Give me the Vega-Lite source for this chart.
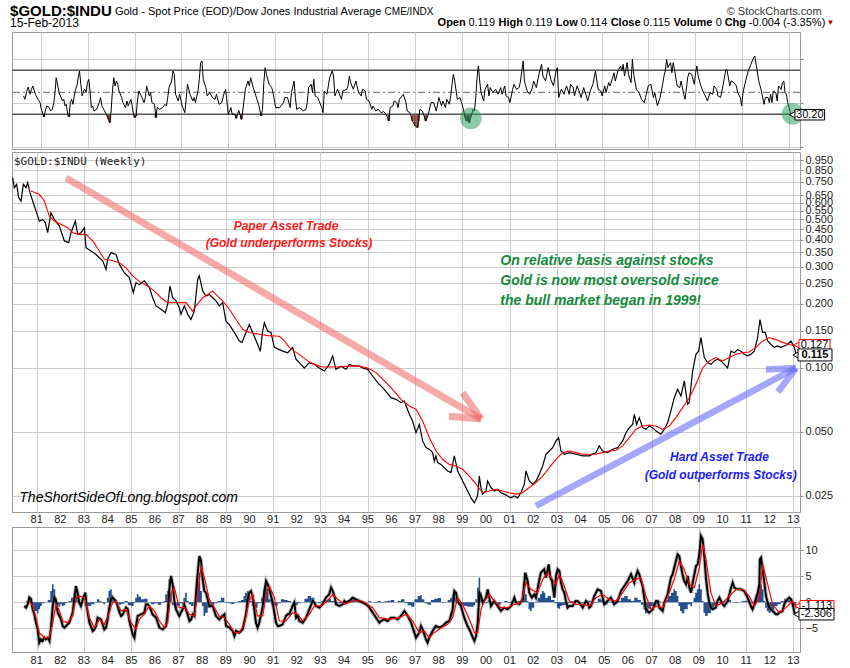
{
"$schema":"https://vega.github.io/schema/vega-lite/v6.json",
"background":"white",
"padding":{"left":9,"top":3,"right":0,"bottom":0},
"bounds":"flush",
"spacing":3,
"config":{"font":"Liberation Sans","view":{"stroke":"#9a9a9a"},"axis":{"labelFont":"Liberation Sans","labelFontSize":11,"labelColor":"#222","gridColor":"#cccccc","tickColor":"#888","domain":false,"labelFlush":false,"labelOverlap":false,"labelBound":false},"text":{"font":"Liberation Sans"}},
"datasets":{
"yrs":[{"yr":1981,"lab":"81"},{"yr":1982,"lab":"82"},{"yr":1983,"lab":"83"},{"yr":1984,"lab":"84"},{"yr":1985,"lab":"85"},{"yr":1986,"lab":"86"},{"yr":1987,"lab":"87"},{"yr":1988,"lab":"88"},{"yr":1989,"lab":"89"},{"yr":1990,"lab":"90"},{"yr":1991,"lab":"91"},{"yr":1992,"lab":"92"},{"yr":1993,"lab":"93"},{"yr":1994,"lab":"94"},{"yr":1995,"lab":"95"},{"yr":1996,"lab":"96"},{"yr":1997,"lab":"97"},{"yr":1998,"lab":"98"},{"yr":1999,"lab":"99"},{"yr":2000,"lab":"00"},{"yr":2001,"lab":"01"},{"yr":2002,"lab":"02"},{"yr":2003,"lab":"03"},{"yr":2004,"lab":"04"},{"yr":2005,"lab":"05"},{"yr":2006,"lab":"06"},{"yr":2007,"lab":"07"},{"yr":2008,"lab":"08"},{"yr":2009,"lab":"09"},{"yr":2010,"lab":"10"},{"yr":2011,"lab":"11"},{"yr":2012,"lab":"12"},{"yr":2013,"lab":"13"}],
"px":[{"t":1979.984,"p":0.786},{"t":1980.055,"p":0.705},{"t":1980.153,"p":0.731},{"t":1980.238,"p":0.633},{"t":1980.337,"p":0.61},{"t":1980.435,"p":0.731},{"t":1980.548,"p":0.705},{"t":1980.618,"p":0.744},{"t":1980.717,"p":0.668},{"t":1980.83,"p":0.61},{"t":1980.971,"p":0.548},{"t":1981.112,"p":0.491},{"t":1981.253,"p":0.5},{"t":1981.366,"p":0.483},{"t":1981.464,"p":0.433},{"t":1981.605,"p":0.538},{"t":1981.746,"p":0.5},{"t":1981.958,"p":0.465},{"t":1982.169,"p":0.396},{"t":1982.352,"p":0.389},{"t":1982.451,"p":0.433},{"t":1982.634,"p":0.491},{"t":1982.733,"p":0.425},{"t":1982.874,"p":0.433},{"t":1983.015,"p":0.457},{"t":1983.085,"p":0.368},{"t":1983.296,"p":0.355},{"t":1983.508,"p":0.342},{"t":1983.649,"p":0.33},{"t":1983.79,"p":0.319},{"t":1983.931,"p":0.291},{"t":1984.001,"p":0.325},{"t":1984.142,"p":0.349},{"t":1984.354,"p":0.342},{"t":1984.494,"p":0.307},{"t":1984.706,"p":0.281},{"t":1984.917,"p":0.266},{"t":1985.087,"p":0.226},{"t":1985.199,"p":0.252},{"t":1985.34,"p":0.247},{"t":1985.552,"p":0.257},{"t":1985.763,"p":0.239},{"t":1985.904,"p":0.214},{"t":1986.045,"p":0.196},{"t":1986.256,"p":0.189},{"t":1986.44,"p":0.182},{"t":1986.538,"p":0.199},{"t":1986.637,"p":0.243},{"t":1986.75,"p":0.214},{"t":1986.891,"p":0.207},{"t":1987.031,"p":0.192},{"t":1987.102,"p":0.179},{"t":1987.243,"p":0.196},{"t":1987.384,"p":0.179},{"t":1987.525,"p":0.169},{"t":1987.666,"p":0.185},{"t":1987.807,"p":0.261},{"t":1987.877,"p":0.271},{"t":1988.018,"p":0.23},{"t":1988.159,"p":0.218},{"t":1988.3,"p":0.222},{"t":1988.441,"p":0.214},{"t":1988.582,"p":0.207},{"t":1988.723,"p":0.196},{"t":1988.864,"p":0.203},{"t":1989.005,"p":0.166},{"t":1989.146,"p":0.16},{"t":1989.357,"p":0.147},{"t":1989.568,"p":0.134},{"t":1989.681,"p":0.132},{"t":1989.85,"p":0.147},{"t":1989.991,"p":0.16},{"t":1990.132,"p":0.147},{"t":1990.344,"p":0.129},{"t":1990.456,"p":0.12},{"t":1990.555,"p":0.149},{"t":1990.626,"p":0.163},{"t":1990.767,"p":0.149},{"t":1990.907,"p":0.147},{"t":1991.048,"p":0.125},{"t":1991.259,"p":0.122},{"t":1991.4,"p":0.12},{"t":1991.612,"p":0.118},{"t":1991.823,"p":0.125},{"t":1991.964,"p":0.11},{"t":1992.176,"p":0.104},{"t":1992.317,"p":0.1},{"t":1992.528,"p":0.106},{"t":1992.74,"p":0.104},{"t":1992.951,"p":0.1},{"t":1993.162,"p":0.0968},{"t":1993.374,"p":0.104},{"t":1993.514,"p":0.114},{"t":1993.655,"p":0.0986},{"t":1993.867,"p":0.102},{"t":1994.079,"p":0.0986},{"t":1994.219,"p":0.104},{"t":1994.431,"p":0.102},{"t":1994.642,"p":0.102},{"t":1994.783,"p":0.1},{"t":1994.995,"p":0.0986},{"t":1995.206,"p":0.0917},{"t":1995.417,"p":0.0853},{"t":1995.699,"p":0.0794},{"t":1995.981,"p":0.0725},{"t":1996.193,"p":0.0712},{"t":1996.404,"p":0.0687},{"t":1996.545,"p":0.0699},{"t":1996.756,"p":0.0606},{"t":1996.897,"p":0.0563},{"t":1997.038,"p":0.0496},{"t":1997.179,"p":0.0543},{"t":1997.32,"p":0.0454},{"t":1997.461,"p":0.0422},{"t":1997.602,"p":0.0415},{"t":1997.743,"p":0.04},{"t":1997.813,"p":0.0365},{"t":1997.884,"p":0.0386},{"t":1997.954,"p":0.0359},{"t":1998.095,"p":0.0352},{"t":1998.236,"p":0.034},{"t":1998.377,"p":0.0328},{"t":1998.518,"p":0.0322},{"t":1998.588,"p":0.0352},{"t":1998.659,"p":0.0386},{"t":1998.8,"p":0.0328},{"t":1998.941,"p":0.0305},{"t":1999.082,"p":0.0284},{"t":1999.223,"p":0.0264},{"t":1999.364,"p":0.0245},{"t":1999.505,"p":0.0232},{"t":1999.645,"p":0.025},{"t":1999.716,"p":0.031},{"t":1999.786,"p":0.0274},{"t":1999.857,"p":0.0255},{"t":1999.998,"p":0.0264},{"t":2000.068,"p":0.0294},{"t":2000.209,"p":0.0274},{"t":2000.35,"p":0.0264},{"t":2000.491,"p":0.0269},{"t":2000.632,"p":0.0259},{"t":2000.773,"p":0.0255},{"t":2000.914,"p":0.025},{"t":2001.055,"p":0.0245},{"t":2001.196,"p":0.025},{"t":2001.337,"p":0.0245},{"t":2001.478,"p":0.0259},{"t":2001.619,"p":0.0284},{"t":2001.689,"p":0.0328},{"t":2001.83,"p":0.0294},{"t":2001.971,"p":0.0284},{"t":2002.112,"p":0.0294},{"t":2002.253,"p":0.0316},{"t":2002.394,"p":0.0346},{"t":2002.535,"p":0.0393},{"t":2002.676,"p":0.0407},{"t":2002.817,"p":0.0422},{"t":2002.958,"p":0.0454},{"t":2003.07,"p":0.047},{"t":2003.169,"p":0.0407},{"t":2003.31,"p":0.0393},{"t":2003.521,"p":0.04},{"t":2003.803,"p":0.0393},{"t":2004.085,"p":0.0386},{"t":2004.367,"p":0.0386},{"t":2004.649,"p":0.04},{"t":2004.79,"p":0.043},{"t":2004.931,"p":0.0407},{"t":2005.142,"p":0.04},{"t":2005.354,"p":0.0415},{"t":2005.565,"p":0.0422},{"t":2005.777,"p":0.0454},{"t":2005.917,"p":0.0496},{"t":2006.058,"p":0.0524},{"t":2006.199,"p":0.0543},{"t":2006.27,"p":0.0606},{"t":2006.369,"p":0.0543},{"t":2006.481,"p":0.0584},{"t":2006.622,"p":0.0524},{"t":2006.763,"p":0.0515},{"t":2006.904,"p":0.0534},{"t":2007.045,"p":0.0524},{"t":2007.186,"p":0.0505},{"t":2007.398,"p":0.0488},{"t":2007.538,"p":0.0515},{"t":2007.679,"p":0.0553},{"t":2007.82,"p":0.0628},{"t":2007.961,"p":0.0725},{"t":2008.102,"p":0.0794},{"t":2008.243,"p":0.0738},{"t":2008.384,"p":0.0869},{"t":2008.525,"p":0.0675},{"t":2008.596,"p":0.069},{"t":2008.737,"p":0.0968},{"t":2008.877,"p":0.116},{"t":2008.99,"p":0.12},{"t":2009.089,"p":0.139},{"t":2009.23,"p":0.112},{"t":2009.371,"p":0.106},{"t":2009.512,"p":0.104},{"t":2009.653,"p":0.108},{"t":2009.794,"p":0.11},{"t":2009.935,"p":0.108},{"t":2010.075,"p":0.104},{"t":2010.216,"p":0.1},{"t":2010.357,"p":0.12},{"t":2010.498,"p":0.118},{"t":2010.639,"p":0.122},{"t":2010.78,"p":0.12},{"t":2010.921,"p":0.116},{"t":2011.062,"p":0.114},{"t":2011.203,"p":0.116},{"t":2011.344,"p":0.12},{"t":2011.485,"p":0.139},{"t":2011.584,"p":0.169},{"t":2011.696,"p":0.147},{"t":2011.809,"p":0.147},{"t":2011.908,"p":0.134},{"t":2012.049,"p":0.129},{"t":2012.19,"p":0.125},{"t":2012.33,"p":0.127},{"t":2012.471,"p":0.125},{"t":2012.612,"p":0.127},{"t":2012.753,"p":0.129},{"t":2012.894,"p":0.134},{"t":2013.035,"p":0.125},{"t":2013.124,"p":0.115}],
"ma":[{"t":1980.759,"p":0.68},{"t":1981.112,"p":0.656},{"t":1981.323,"p":0.61},{"t":1981.535,"p":0.519},{"t":1981.746,"p":0.491},{"t":1982.028,"p":0.474},{"t":1982.31,"p":0.457},{"t":1982.521,"p":0.433},{"t":1982.803,"p":0.425},{"t":1983.085,"p":0.425},{"t":1983.367,"p":0.396},{"t":1983.649,"p":0.355},{"t":1983.86,"p":0.325},{"t":1984.142,"p":0.321},{"t":1984.494,"p":0.313},{"t":1984.776,"p":0.296},{"t":1985.058,"p":0.271},{"t":1985.41,"p":0.252},{"t":1985.693,"p":0.243},{"t":1985.974,"p":0.23},{"t":1986.256,"p":0.214},{"t":1986.538,"p":0.203},{"t":1986.961,"p":0.203},{"t":1987.313,"p":0.203},{"t":1987.595,"p":0.185},{"t":1987.736,"p":0.196},{"t":1988.018,"p":0.214},{"t":1988.441,"p":0.23},{"t":1988.652,"p":0.218},{"t":1988.864,"p":0.207},{"t":1989.146,"p":0.189},{"t":1989.428,"p":0.169},{"t":1989.709,"p":0.152},{"t":1989.991,"p":0.147},{"t":1990.414,"p":0.144},{"t":1990.767,"p":0.142},{"t":1991.259,"p":0.141},{"t":1991.471,"p":0.134},{"t":1991.682,"p":0.125},{"t":1991.894,"p":0.12},{"t":1992.176,"p":0.114},{"t":1992.458,"p":0.108},{"t":1992.74,"p":0.104},{"t":1993.092,"p":0.1011},{"t":1993.374,"p":0.1011},{"t":1993.797,"p":0.1011},{"t":1994.219,"p":0.102},{"t":1994.642,"p":0.102},{"t":1994.995,"p":0.1},{"t":1995.347,"p":0.0951},{"t":1995.699,"p":0.0869},{"t":1996.052,"p":0.0794},{"t":1996.404,"p":0.0712},{"t":1996.756,"p":0.0663},{"t":1997.038,"p":0.064},{"t":1997.32,"p":0.0563},{"t":1997.602,"p":0.047},{"t":1997.884,"p":0.0407},{"t":1998.166,"p":0.0372},{"t":1998.447,"p":0.0352},{"t":1998.729,"p":0.0346},{"t":1999.011,"p":0.0334},{"t":1999.293,"p":0.031},{"t":1999.575,"p":0.0284},{"t":1999.857,"p":0.0259},{"t":2000.139,"p":0.0264},{"t":2000.421,"p":0.0269},{"t":2000.702,"p":0.0264},{"t":2000.984,"p":0.0259},{"t":2001.266,"p":0.0255},{"t":2001.548,"p":0.0259},{"t":2001.83,"p":0.0274},{"t":2002.112,"p":0.0289},{"t":2002.394,"p":0.031},{"t":2002.676,"p":0.034},{"t":2002.958,"p":0.0372},{"t":2003.24,"p":0.04},{"t":2003.521,"p":0.0407},{"t":2003.803,"p":0.04},{"t":2004.085,"p":0.0393},{"t":2004.367,"p":0.0393},{"t":2004.649,"p":0.0393},{"t":2004.931,"p":0.04},{"t":2005.213,"p":0.0407},{"t":2005.495,"p":0.041},{"t":2005.777,"p":0.043},{"t":2006.058,"p":0.047},{"t":2006.34,"p":0.0515},{"t":2006.622,"p":0.0534},{"t":2006.904,"p":0.0539},{"t":2007.186,"p":0.0534},{"t":2007.468,"p":0.0515},{"t":2007.75,"p":0.0534},{"t":2008.032,"p":0.0584},{"t":2008.313,"p":0.0651},{"t":2008.596,"p":0.0725},{"t":2008.877,"p":0.0838},{"t":2009.159,"p":0.1},{"t":2009.441,"p":0.108},{"t":2009.723,"p":0.112},{"t":2010.005,"p":0.108},{"t":2010.287,"p":0.112},{"t":2010.569,"p":0.116},{"t":2010.85,"p":0.118},{"t":2011.132,"p":0.119},{"t":2011.414,"p":0.125},{"t":2011.696,"p":0.134},{"t":2011.978,"p":0.139},{"t":2012.259,"p":0.136},{"t":2012.541,"p":0.132},{"t":2012.823,"p":0.129},{"t":2013.124,"p":0.127}],
"rsi":[{"t":1980.238,"r":46.7},{"t":1980.294,"r":43.6},{"t":1980.379,"r":51.2},{"t":1980.435,"r":54.8},{"t":1980.52,"r":48.2},{"t":1980.576,"r":52.7},{"t":1980.633,"r":55.8},{"t":1980.745,"r":48.2},{"t":1980.858,"r":43.6},{"t":1980.943,"r":40.6},{"t":1980.999,"r":34.5},{"t":1981.112,"r":27.6},{"t":1981.168,"r":33},{"t":1981.225,"r":37.6},{"t":1981.337,"r":36.1},{"t":1981.394,"r":33},{"t":1981.464,"r":34.5},{"t":1981.535,"r":40.6},{"t":1981.591,"r":51.2},{"t":1981.633,"r":63.3},{"t":1981.704,"r":55.8},{"t":1981.76,"r":49.7},{"t":1981.845,"r":45.2},{"t":1981.901,"r":42.1},{"t":1981.958,"r":43.6},{"t":1982.014,"r":37.6},{"t":1982.07,"r":39.1},{"t":1982.127,"r":30},{"t":1982.183,"r":27.6},{"t":1982.239,"r":40.6},{"t":1982.296,"r":43.6},{"t":1982.352,"r":39.1},{"t":1982.408,"r":46.7},{"t":1982.465,"r":52.7},{"t":1982.521,"r":55.8},{"t":1982.578,"r":63.3},{"t":1982.634,"r":69.4},{"t":1982.69,"r":57.3},{"t":1982.747,"r":46.7},{"t":1982.803,"r":51.2},{"t":1982.859,"r":52.7},{"t":1982.916,"r":49.7},{"t":1982.972,"r":58.8},{"t":1983.029,"r":61.8},{"t":1983.085,"r":51.2},{"t":1983.141,"r":36.1},{"t":1983.198,"r":37.6},{"t":1983.254,"r":33},{"t":1983.367,"r":34.5},{"t":1983.479,"r":40.6},{"t":1983.536,"r":45.2},{"t":1983.592,"r":37.6},{"t":1983.705,"r":33},{"t":1983.818,"r":28.5},{"t":1983.874,"r":25.4},{"t":1983.931,"r":22.4},{"t":1983.987,"r":33},{"t":1984.043,"r":51.2},{"t":1984.1,"r":63.3},{"t":1984.156,"r":55.8},{"t":1984.213,"r":60.3},{"t":1984.269,"r":57.3},{"t":1984.325,"r":51.2},{"t":1984.438,"r":45.2},{"t":1984.494,"r":40.6},{"t":1984.607,"r":36.1},{"t":1984.663,"r":42.1},{"t":1984.72,"r":37.6},{"t":1984.833,"r":43.6},{"t":1984.889,"r":37.6},{"t":1984.945,"r":30},{"t":1985.002,"r":26.9},{"t":1985.058,"r":28.5},{"t":1985.114,"r":42.1},{"t":1985.171,"r":51.2},{"t":1985.284,"r":46.7},{"t":1985.396,"r":40.6},{"t":1985.453,"r":45.2},{"t":1985.509,"r":55.8},{"t":1985.565,"r":51.2},{"t":1985.622,"r":46.7},{"t":1985.678,"r":49.7},{"t":1985.735,"r":40.6},{"t":1985.847,"r":39.1},{"t":1985.904,"r":26.9},{"t":1985.96,"r":36.1},{"t":1986.073,"r":34.5},{"t":1986.186,"r":36.1},{"t":1986.298,"r":39.1},{"t":1986.355,"r":37.6},{"t":1986.411,"r":45.2},{"t":1986.467,"r":54.3},{"t":1986.58,"r":60.3},{"t":1986.637,"r":69.4},{"t":1986.693,"r":66.3},{"t":1986.749,"r":48.2},{"t":1986.862,"r":42.1},{"t":1986.918,"r":48.2},{"t":1987.031,"r":37.6},{"t":1987.144,"r":31.5},{"t":1987.2,"r":43.6},{"t":1987.257,"r":57.3},{"t":1987.369,"r":48.2},{"t":1987.482,"r":42.1},{"t":1987.539,"r":45.2},{"t":1987.595,"r":40.6},{"t":1987.708,"r":51.2},{"t":1987.764,"r":61.8},{"t":1987.82,"r":76.9},{"t":1987.877,"r":78.5},{"t":1987.933,"r":61.8},{"t":1988.046,"r":54.3},{"t":1988.102,"r":46.7},{"t":1988.215,"r":49.7},{"t":1988.328,"r":45.2},{"t":1988.441,"r":43.6},{"t":1988.497,"r":48.2},{"t":1988.61,"r":39.1},{"t":1988.723,"r":40.6},{"t":1988.835,"r":49.7},{"t":1988.892,"r":52.7},{"t":1989.004,"r":30},{"t":1989.117,"r":36.1},{"t":1989.173,"r":30},{"t":1989.286,"r":30},{"t":1989.343,"r":26.3},{"t":1989.455,"r":33.6},{"t":1989.568,"r":25.4},{"t":1989.624,"r":33},{"t":1989.737,"r":52.7},{"t":1989.85,"r":60.3},{"t":1989.906,"r":55.8},{"t":1989.963,"r":63.3},{"t":1990.075,"r":54.3},{"t":1990.188,"r":46.7},{"t":1990.301,"r":39.1},{"t":1990.414,"r":28.5},{"t":1990.47,"r":34.5},{"t":1990.527,"r":58.8},{"t":1990.583,"r":72.4},{"t":1990.639,"r":66.3},{"t":1990.752,"r":57.3},{"t":1990.865,"r":54.3},{"t":1990.921,"r":49.7},{"t":1991.034,"r":36.1},{"t":1991.203,"r":36.1},{"t":1991.372,"r":40.6},{"t":1991.428,"r":45.2},{"t":1991.541,"r":45.2},{"t":1991.654,"r":36.1},{"t":1991.71,"r":49.7},{"t":1991.823,"r":60.3},{"t":1991.879,"r":45.2},{"t":1991.936,"r":34.5},{"t":1992.048,"r":36.1},{"t":1992.161,"r":34.5},{"t":1992.217,"r":33},{"t":1992.33,"r":34.5},{"t":1992.386,"r":40.6},{"t":1992.443,"r":54.3},{"t":1992.555,"r":57.3},{"t":1992.612,"r":49.7},{"t":1992.668,"r":61.8},{"t":1992.725,"r":46.7},{"t":1992.838,"r":45.2},{"t":1993.007,"r":36.1},{"t":1993.063,"r":31.5},{"t":1993.12,"r":51.2},{"t":1993.232,"r":48.2},{"t":1993.345,"r":63.3},{"t":1993.458,"r":69.4},{"t":1993.514,"r":64.8},{"t":1993.571,"r":46.7},{"t":1993.684,"r":52.7},{"t":1993.853,"r":43.6},{"t":1993.909,"r":51.2},{"t":1994.078,"r":52.7},{"t":1994.135,"r":55.8},{"t":1994.191,"r":64.8},{"t":1994.247,"r":58.8},{"t":1994.36,"r":52.7},{"t":1994.473,"r":60.3},{"t":1994.585,"r":49.7},{"t":1994.698,"r":46.7},{"t":1994.755,"r":52.7},{"t":1994.867,"r":51.2},{"t":1994.924,"r":43.6},{"t":1995.036,"r":42.1},{"t":1995.149,"r":34.5},{"t":1995.205,"r":37.6},{"t":1995.318,"r":33},{"t":1995.431,"r":34.5},{"t":1995.544,"r":31.5},{"t":1995.657,"r":32.4},{"t":1995.77,"r":30},{"t":1995.882,"r":23.9},{"t":1995.939,"r":36.1},{"t":1996.051,"r":37.6},{"t":1996.108,"r":42.1},{"t":1996.221,"r":40.6},{"t":1996.277,"r":36.1},{"t":1996.333,"r":43.6},{"t":1996.446,"r":46.7},{"t":1996.502,"r":48.2},{"t":1996.615,"r":40.6},{"t":1996.671,"r":33},{"t":1996.784,"r":31.5},{"t":1996.897,"r":23.9},{"t":1997.01,"r":19.4},{"t":1997.109,"r":17.9},{"t":1997.152,"r":23.9},{"t":1997.208,"r":34.5},{"t":1997.321,"r":33},{"t":1997.462,"r":23.9},{"t":1997.574,"r":30},{"t":1997.687,"r":40.6},{"t":1997.8,"r":40.6},{"t":1997.913,"r":33},{"t":1998.025,"r":45.2},{"t":1998.138,"r":37.6},{"t":1998.195,"r":42.1},{"t":1998.307,"r":36.1},{"t":1998.364,"r":43.6},{"t":1998.476,"r":39.1},{"t":1998.533,"r":46.7},{"t":1998.589,"r":57.3},{"t":1998.646,"r":66.3},{"t":1998.702,"r":60.3},{"t":1998.815,"r":43.6},{"t":1998.927,"r":45.2},{"t":1999.04,"r":37.6},{"t":1999.153,"r":26.9},{"t":1999.209,"r":23.9},{"t":1999.266,"r":28.5},{"t":1999.322,"r":22.4},{"t":1999.378,"r":26.9},{"t":1999.491,"r":34.5},{"t":1999.548,"r":33},{"t":1999.604,"r":45.2},{"t":1999.66,"r":63.3},{"t":1999.717,"r":73.9},{"t":1999.773,"r":60.3},{"t":1999.829,"r":49.7},{"t":1999.942,"r":42.1},{"t":1999.999,"r":52.7},{"t":2000.111,"r":57.3},{"t":2000.168,"r":46.7},{"t":2000.224,"r":54.3},{"t":2000.337,"r":49.7},{"t":2000.45,"r":52.7},{"t":2000.562,"r":48.2},{"t":2000.675,"r":54.3},{"t":2000.731,"r":48.2},{"t":2000.844,"r":55.8},{"t":2000.901,"r":46.7},{"t":2001.013,"r":45.2},{"t":2001.07,"r":40.6},{"t":2001.183,"r":52.7},{"t":2001.239,"r":57.3},{"t":2001.352,"r":52.7},{"t":2001.464,"r":54.3},{"t":2001.521,"r":60.3},{"t":2001.577,"r":69.4},{"t":2001.634,"r":78.5},{"t":2001.69,"r":60.3},{"t":2001.803,"r":51.2},{"t":2001.916,"r":48.2},{"t":2002.028,"r":54.3},{"t":2002.085,"r":60.3},{"t":2002.197,"r":54.3},{"t":2002.31,"r":66.3},{"t":2002.423,"r":75.4},{"t":2002.479,"r":64.8},{"t":2002.592,"r":60.3},{"t":2002.705,"r":72.4},{"t":2002.817,"r":61.8},{"t":2002.93,"r":55.8},{"t":2003.043,"r":69.4},{"t":2003.099,"r":72.4},{"t":2003.156,"r":45.2},{"t":2003.268,"r":52.7},{"t":2003.381,"r":48.2},{"t":2003.494,"r":55.8},{"t":2003.607,"r":48.2},{"t":2003.663,"r":57.3},{"t":2003.776,"r":54.3},{"t":2003.832,"r":46.7},{"t":2003.945,"r":55.8},{"t":2004.058,"r":49.7},{"t":2004.114,"r":45.2},{"t":2004.227,"r":54.3},{"t":2004.34,"r":46.7},{"t":2004.396,"r":42.1},{"t":2004.509,"r":51.2},{"t":2004.622,"r":57.3},{"t":2004.734,"r":69.4},{"t":2004.791,"r":60.3},{"t":2004.847,"r":52.7},{"t":2004.96,"r":51.2},{"t":2005.016,"r":46.7},{"t":2005.129,"r":55.8},{"t":2005.185,"r":49.7},{"t":2005.298,"r":58.8},{"t":2005.354,"r":55.8},{"t":2005.467,"r":63.3},{"t":2005.523,"r":67.8},{"t":2005.58,"r":60.3},{"t":2005.692,"r":69.4},{"t":2005.805,"r":73.9},{"t":2005.862,"r":69.4},{"t":2005.918,"r":75.4},{"t":2005.975,"r":64.8},{"t":2006.087,"r":76.9},{"t":2006.143,"r":66.3},{"t":2006.256,"r":58.8},{"t":2006.313,"r":80},{"t":2006.369,"r":66.3},{"t":2006.482,"r":52.7},{"t":2006.594,"r":49.7},{"t":2006.707,"r":43.6},{"t":2006.82,"r":40.6},{"t":2006.876,"r":45.2},{"t":2006.989,"r":55.8},{"t":2007.102,"r":57.3},{"t":2007.215,"r":45.2},{"t":2007.271,"r":49.7},{"t":2007.384,"r":37.6},{"t":2007.497,"r":45.2},{"t":2007.609,"r":57.3},{"t":2007.666,"r":64.8},{"t":2007.722,"r":69.4},{"t":2007.778,"r":80},{"t":2007.835,"r":72.4},{"t":2007.947,"r":76.9},{"t":2008.004,"r":67.8},{"t":2008.06,"r":76.9},{"t":2008.117,"r":70.9},{"t":2008.229,"r":55.8},{"t":2008.342,"r":54.3},{"t":2008.398,"r":60.3},{"t":2008.511,"r":48.2},{"t":2008.568,"r":43.6},{"t":2008.68,"r":63.3},{"t":2008.737,"r":67.8},{"t":2008.849,"r":66.3},{"t":2008.962,"r":57.3},{"t":2009.019,"r":67.8},{"t":2009.075,"r":73.9},{"t":2009.131,"r":64.8},{"t":2009.244,"r":55.8},{"t":2009.357,"r":49.7},{"t":2009.47,"r":45.2},{"t":2009.526,"r":42.1},{"t":2009.639,"r":49.7},{"t":2009.752,"r":48.2},{"t":2009.808,"r":55.8},{"t":2009.921,"r":52.7},{"t":2009.977,"r":46.7},{"t":2010.09,"r":45.2},{"t":2010.203,"r":57.3},{"t":2010.316,"r":70.9},{"t":2010.372,"r":69.4},{"t":2010.485,"r":55.8},{"t":2010.541,"r":60.3},{"t":2010.654,"r":58.8},{"t":2010.766,"r":55.8},{"t":2010.823,"r":49.7},{"t":2010.936,"r":45.2},{"t":2010.992,"r":37.6},{"t":2011.048,"r":49.7},{"t":2011.161,"r":60.3},{"t":2011.274,"r":69.4},{"t":2011.387,"r":75.4},{"t":2011.5,"r":81.5},{"t":2011.556,"r":83},{"t":2011.612,"r":75.4},{"t":2011.725,"r":60.3},{"t":2011.838,"r":51.2},{"t":2011.951,"r":39.1},{"t":2012.007,"r":45.2},{"t":2012.12,"r":45.2},{"t":2012.176,"r":40.6},{"t":2012.232,"r":48.2},{"t":2012.289,"r":40.6},{"t":2012.345,"r":51.2},{"t":2012.458,"r":49.7},{"t":2012.514,"r":42.1},{"t":2012.57,"r":55.8},{"t":2012.683,"r":52.7},{"t":2012.74,"r":58.8},{"t":2012.796,"r":60.3},{"t":2012.852,"r":49.7},{"t":2012.909,"r":48.2},{"t":2012.965,"r":40.6},{"t":2013.022,"r":36.1},{"t":2013.078,"r":31.5},{"t":2013.124,"r":30.2}],
"macd":[{"t":1980.48,"v":-0.71},{"t":1980.55,"v":-1.03},{"t":1980.62,"v":-0.39},{"t":1980.69,"v":0.89},{"t":1980.76,"v":0.57},{"t":1980.83,"v":-1.35},{"t":1980.9,"v":-2.31},{"t":1980.97,"v":-3.92},{"t":1981.04,"v":-5.2},{"t":1981.11,"v":-7.76},{"t":1981.18,"v":-7.12},{"t":1981.25,"v":-7.44},{"t":1981.32,"v":-6.8},{"t":1981.39,"v":-7.12},{"t":1981.47,"v":-6.8},{"t":1981.54,"v":-7.44},{"t":1981.61,"v":-4.56},{"t":1981.68,"v":-0.71},{"t":1981.75,"v":0.89},{"t":1981.82,"v":0.25},{"t":1981.89,"v":-1.99},{"t":1981.96,"v":-2.63},{"t":1982.03,"v":-3.28},{"t":1982.1,"v":-4.56},{"t":1982.17,"v":-4.88},{"t":1982.24,"v":-4.56},{"t":1982.38,"v":-3.92},{"t":1982.52,"v":-1.99},{"t":1982.59,"v":0.57},{"t":1982.66,"v":3.13},{"t":1982.73,"v":1.85},{"t":1982.8,"v":-0.07},{"t":1982.87,"v":-0.71},{"t":1982.97,"v":0.89},{"t":1983.06,"v":1.85},{"t":1983.11,"v":-0.71},{"t":1983.23,"v":-3.92},{"t":1983.37,"v":-5.52},{"t":1983.44,"v":-5.2},{"t":1983.51,"v":-4.56},{"t":1983.58,"v":-2.96},{"t":1983.72,"v":-3.28},{"t":1983.86,"v":-5.2},{"t":1983.93,"v":-4.88},{"t":1984,"v":-3.28},{"t":1984.07,"v":-1.03},{"t":1984.14,"v":0.57},{"t":1984.21,"v":0.89},{"t":1984.28,"v":0.57},{"t":1984.35,"v":0.25},{"t":1984.42,"v":-0.71},{"t":1984.5,"v":-1.99},{"t":1984.57,"v":-2.63},{"t":1984.64,"v":-2.31},{"t":1984.71,"v":-1.67},{"t":1984.78,"v":-1.03},{"t":1984.85,"v":-1.35},{"t":1984.92,"v":-3.6},{"t":1985.06,"v":-6.16},{"t":1985.13,"v":-6.8},{"t":1985.2,"v":-4.56},{"t":1985.27,"v":-2.63},{"t":1985.41,"v":-2.31},{"t":1985.55,"v":-1.99},{"t":1985.62,"v":-0.39},{"t":1985.69,"v":-0.39},{"t":1985.76,"v":-0.71},{"t":1985.9,"v":-2.31},{"t":1986.05,"v":-2.96},{"t":1986.19,"v":-4.88},{"t":1986.33,"v":-5.2},{"t":1986.47,"v":-4.56},{"t":1986.54,"v":-1.99},{"t":1986.61,"v":2.49},{"t":1986.68,"v":5.06},{"t":1986.75,"v":3.46},{"t":1986.82,"v":0.25},{"t":1986.89,"v":-1.35},{"t":1986.96,"v":-1.99},{"t":1987.03,"v":-2.63},{"t":1987.17,"v":-1.35},{"t":1987.24,"v":-0.39},{"t":1987.31,"v":-1.35},{"t":1987.38,"v":-2.31},{"t":1987.46,"v":-3.6},{"t":1987.53,"v":-3.28},{"t":1987.6,"v":-2.31},{"t":1987.67,"v":-2.63},{"t":1987.74,"v":1.85},{"t":1987.81,"v":5.7},{"t":1987.88,"v":8.9},{"t":1987.95,"v":7.94},{"t":1988.02,"v":4.42},{"t":1988.09,"v":2.17},{"t":1988.16,"v":1.85},{"t":1988.3,"v":-0.71},{"t":1988.44,"v":-0.71},{"t":1988.58,"v":-2.63},{"t":1988.72,"v":-3.28},{"t":1988.86,"v":-2.63},{"t":1988.94,"v":-2.31},{"t":1989.01,"v":-4.56},{"t":1989.15,"v":-4.88},{"t":1989.29,"v":-5.52},{"t":1989.36,"v":-6.48},{"t":1989.43,"v":-5.52},{"t":1989.57,"v":-5.84},{"t":1989.71,"v":-5.2},{"t":1989.85,"v":-2.31},{"t":1989.92,"v":0.57},{"t":1989.99,"v":1.85},{"t":1990.06,"v":2.17},{"t":1990.13,"v":1.21},{"t":1990.2,"v":-1.35},{"t":1990.27,"v":-3.92},{"t":1990.34,"v":-4.88},{"t":1990.41,"v":-3.92},{"t":1990.49,"v":-2.31},{"t":1990.56,"v":-0.71},{"t":1990.63,"v":2.17},{"t":1990.7,"v":4.1},{"t":1990.77,"v":3.46},{"t":1990.84,"v":2.49},{"t":1990.98,"v":-0.07},{"t":1991.12,"v":-3.92},{"t":1991.19,"v":-4.56},{"t":1991.26,"v":-4.56},{"t":1991.4,"v":-4.24},{"t":1991.54,"v":-2.63},{"t":1991.61,"v":-2.31},{"t":1991.68,"v":-2.31},{"t":1991.82,"v":-0.71},{"t":1991.89,"v":-0.07},{"t":1991.97,"v":-2.96},{"t":1992.04,"v":-2.63},{"t":1992.11,"v":-3.6},{"t":1992.25,"v":-3.92},{"t":1992.39,"v":-2.96},{"t":1992.53,"v":-1.35},{"t":1992.67,"v":0.25},{"t":1992.74,"v":-0.07},{"t":1992.81,"v":-0.71},{"t":1992.95,"v":-1.03},{"t":1993.09,"v":-0.39},{"t":1993.23,"v":0.89},{"t":1993.37,"v":1.53},{"t":1993.45,"v":2.81},{"t":1993.52,"v":2.17},{"t":1993.59,"v":1.21},{"t":1993.66,"v":-0.39},{"t":1993.8,"v":-0.71},{"t":1993.94,"v":-0.39},{"t":1994.01,"v":0.25},{"t":1994.08,"v":-0.07},{"t":1994.22,"v":0.25},{"t":1994.36,"v":0.89},{"t":1994.5,"v":0.57},{"t":1994.64,"v":0.25},{"t":1994.78,"v":-0.07},{"t":1994.93,"v":-0.39},{"t":1995.07,"v":-1.03},{"t":1995.21,"v":-1.99},{"t":1995.35,"v":-2.96},{"t":1995.49,"v":-3.92},{"t":1995.56,"v":-3.6},{"t":1995.7,"v":-3.28},{"t":1995.84,"v":-3.6},{"t":1995.98,"v":-2.96},{"t":1996.12,"v":-2.96},{"t":1996.26,"v":-3.28},{"t":1996.4,"v":-2.63},{"t":1996.55,"v":-1.67},{"t":1996.69,"v":-2.63},{"t":1996.83,"v":-3.92},{"t":1996.97,"v":-5.84},{"t":1997.04,"v":-6.8},{"t":1997.18,"v":-5.84},{"t":1997.25,"v":-4.56},{"t":1997.32,"v":-5.2},{"t":1997.46,"v":-7.12},{"t":1997.53,"v":-7.76},{"t":1997.6,"v":-6.8},{"t":1997.74,"v":-5.52},{"t":1997.88,"v":-4.56},{"t":1998.03,"v":-4.88},{"t":1998.17,"v":-4.56},{"t":1998.31,"v":-3.92},{"t":1998.45,"v":-3.6},{"t":1998.59,"v":-1.35},{"t":1998.66,"v":2.17},{"t":1998.73,"v":1.85},{"t":1998.8,"v":0.25},{"t":1998.94,"v":-0.71},{"t":1999.08,"v":-2.96},{"t":1999.22,"v":-4.56},{"t":1999.36,"v":-5.84},{"t":1999.44,"v":-6.8},{"t":1999.51,"v":-7.44},{"t":1999.58,"v":-6.48},{"t":1999.65,"v":-3.92},{"t":1999.72,"v":1.85},{"t":1999.79,"v":1.21},{"t":1999.86,"v":-0.07},{"t":2000,"v":0.89},{"t":2000.07,"v":2.49},{"t":2000.14,"v":0.89},{"t":2000.21,"v":-0.71},{"t":2000.35,"v":0.25},{"t":2000.49,"v":-0.71},{"t":2000.63,"v":-1.67},{"t":2000.77,"v":-1.03},{"t":2000.91,"v":-1.35},{"t":2001.06,"v":-0.71},{"t":2001.2,"v":0.89},{"t":2001.27,"v":-0.07},{"t":2001.41,"v":-0.39},{"t":2001.55,"v":0.57},{"t":2001.66,"v":5.7},{"t":2001.76,"v":4.1},{"t":2001.83,"v":1.85},{"t":2001.94,"v":0.89},{"t":2002.04,"v":1.53},{"t":2002.11,"v":0.89},{"t":2002.23,"v":3.78},{"t":2002.32,"v":5.7},{"t":2002.46,"v":6.34},{"t":2002.54,"v":4.74},{"t":2002.65,"v":7.3},{"t":2002.72,"v":4.74},{"t":2002.79,"v":4.1},{"t":2002.89,"v":0.89},{"t":2002.96,"v":5.06},{"t":2003.03,"v":6.34},{"t":2003.1,"v":6.02},{"t":2003.17,"v":3.78},{"t":2003.24,"v":2.49},{"t":2003.31,"v":1.85},{"t":2003.38,"v":0.25},{"t":2003.45,"v":-1.03},{"t":2003.52,"v":-0.71},{"t":2003.66,"v":-0.71},{"t":2003.8,"v":0.25},{"t":2003.87,"v":0.25},{"t":2003.94,"v":-0.07},{"t":2004.09,"v":-1.03},{"t":2004.23,"v":0.25},{"t":2004.3,"v":-0.07},{"t":2004.37,"v":-1.03},{"t":2004.44,"v":-0.71},{"t":2004.58,"v":1.21},{"t":2004.72,"v":2.49},{"t":2004.86,"v":2.17},{"t":2005,"v":-0.39},{"t":2005.14,"v":0.25},{"t":2005.28,"v":0.89},{"t":2005.42,"v":-0.39},{"t":2005.57,"v":0.25},{"t":2005.71,"v":2.17},{"t":2005.85,"v":3.13},{"t":2005.99,"v":4.1},{"t":2006.13,"v":5.38},{"t":2006.27,"v":3.78},{"t":2006.34,"v":5.06},{"t":2006.41,"v":6.02},{"t":2006.48,"v":5.38},{"t":2006.55,"v":4.1},{"t":2006.62,"v":3.13},{"t":2006.69,"v":0.89},{"t":2006.76,"v":-1.35},{"t":2006.9,"v":-1.99},{"t":2007.05,"v":-1.35},{"t":2007.19,"v":0.25},{"t":2007.26,"v":0.25},{"t":2007.33,"v":-1.03},{"t":2007.47,"v":-1.67},{"t":2007.54,"v":-0.07},{"t":2007.68,"v":1.53},{"t":2007.82,"v":4.74},{"t":2007.89,"v":5.38},{"t":2008.03,"v":7.94},{"t":2008.1,"v":9.22},{"t":2008.17,"v":8.9},{"t":2008.24,"v":6.98},{"t":2008.31,"v":5.38},{"t":2008.38,"v":4.1},{"t":2008.46,"v":3.46},{"t":2008.53,"v":5.06},{"t":2008.6,"v":2.81},{"t":2008.67,"v":1.85},{"t":2008.74,"v":3.78},{"t":2008.81,"v":5.38},{"t":2008.88,"v":6.98},{"t":2008.95,"v":7.3},{"t":2009.02,"v":9.22},{"t":2009.09,"v":12.75},{"t":2009.16,"v":12.11},{"t":2009.23,"v":8.9},{"t":2009.3,"v":4.74},{"t":2009.37,"v":1.85},{"t":2009.44,"v":-0.07},{"t":2009.51,"v":-1.03},{"t":2009.58,"v":-1.35},{"t":2009.72,"v":-1.03},{"t":2009.79,"v":0.25},{"t":2009.87,"v":0.89},{"t":2010.01,"v":-0.39},{"t":2010.08,"v":-0.71},{"t":2010.22,"v":0.25},{"t":2010.36,"v":2.81},{"t":2010.43,"v":3.78},{"t":2010.5,"v":2.81},{"t":2010.64,"v":2.49},{"t":2010.78,"v":2.49},{"t":2010.92,"v":2.17},{"t":2010.99,"v":1.53},{"t":2011.06,"v":0.89},{"t":2011.2,"v":-0.71},{"t":2011.27,"v":-1.35},{"t":2011.35,"v":-0.39},{"t":2011.42,"v":0.89},{"t":2011.49,"v":1.85},{"t":2011.56,"v":3.46},{"t":2011.58,"v":8.26},{"t":2011.63,"v":8.58},{"t":2011.7,"v":6.34},{"t":2011.77,"v":3.78},{"t":2011.84,"v":1.21},{"t":2011.91,"v":-0.07},{"t":2011.98,"v":-1.03},{"t":2012.12,"v":-1.67},{"t":2012.26,"v":-2.31},{"t":2012.33,"v":-2.31},{"t":2012.4,"v":-1.99},{"t":2012.54,"v":-1.67},{"t":2012.61,"v":-0.39},{"t":2012.68,"v":0.25},{"t":2012.82,"v":0.89},{"t":2012.9,"v":0.57},{"t":2012.97,"v":-0.39},{"t":2013.04,"v":-1.99},{"t":2013.12,"v":-2.306}],
"sig":[{"t":1980.69,"v":0.25},{"t":1980.83,"v":-0.71},{"t":1980.97,"v":-2.96},{"t":1981.11,"v":-5.84},{"t":1981.32,"v":-6.8},{"t":1981.54,"v":-6.8},{"t":1981.68,"v":-3.92},{"t":1981.82,"v":-0.39},{"t":1981.96,"v":-1.67},{"t":1982.1,"v":-3.6},{"t":1982.31,"v":-3.92},{"t":1982.52,"v":-2.63},{"t":1982.66,"v":0.89},{"t":1982.8,"v":1.21},{"t":1983.02,"v":0.89},{"t":1983.23,"v":-2.96},{"t":1983.44,"v":-4.88},{"t":1983.65,"v":-3.28},{"t":1983.86,"v":-4.24},{"t":1984.07,"v":-1.99},{"t":1984.21,"v":-0.07},{"t":1984.35,"v":0.25},{"t":1984.57,"v":-1.67},{"t":1984.78,"v":-1.35},{"t":1984.99,"v":-3.92},{"t":1985.2,"v":-5.2},{"t":1985.34,"v":-3.28},{"t":1985.55,"v":-2.31},{"t":1985.76,"v":-0.71},{"t":1985.98,"v":-1.67},{"t":1986.19,"v":-3.6},{"t":1986.4,"v":-4.88},{"t":1986.54,"v":-3.92},{"t":1986.68,"v":1.85},{"t":1986.82,"v":2.81},{"t":1987.03,"v":-1.03},{"t":1987.24,"v":-1.03},{"t":1987.46,"v":-2.31},{"t":1987.67,"v":-2.63},{"t":1987.81,"v":1.85},{"t":1987.95,"v":6.98},{"t":1988.09,"v":4.74},{"t":1988.3,"v":0.57},{"t":1988.51,"v":-1.03},{"t":1988.72,"v":-2.63},{"t":1988.94,"v":-2.96},{"t":1989.15,"v":-4.24},{"t":1989.36,"v":-5.84},{"t":1989.57,"v":-5.84},{"t":1989.78,"v":-4.24},{"t":1989.99,"v":0.25},{"t":1990.13,"v":1.53},{"t":1990.34,"v":-2.63},{"t":1990.56,"v":-2.63},{"t":1990.7,"v":1.53},{"t":1990.84,"v":3.13},{"t":1991.05,"v":0.89},{"t":1991.26,"v":-3.6},{"t":1991.54,"v":-3.6},{"t":1991.82,"v":-1.99},{"t":1992.04,"v":-2.31},{"t":1992.25,"v":-3.6},{"t":1992.53,"v":-2.31},{"t":1992.74,"v":-0.71},{"t":1993.02,"v":-0.71},{"t":1993.3,"v":0.25},{"t":1993.52,"v":1.53},{"t":1993.73,"v":0.57},{"t":1994.01,"v":-0.39},{"t":1994.36,"v":0.25},{"t":1994.78,"v":0.25},{"t":1995.21,"v":-1.03},{"t":1995.49,"v":-2.96},{"t":1995.91,"v":-3.28},{"t":1996.33,"v":-2.96},{"t":1996.62,"v":-2.31},{"t":1996.9,"v":-3.6},{"t":1997.18,"v":-5.84},{"t":1997.39,"v":-5.52},{"t":1997.6,"v":-6.8},{"t":1997.81,"v":-5.84},{"t":1998.1,"v":-4.88},{"t":1998.38,"v":-4.24},{"t":1998.59,"v":-2.96},{"t":1998.8,"v":0.89},{"t":1999.01,"v":-0.39},{"t":1999.29,"v":-3.28},{"t":1999.51,"v":-5.84},{"t":1999.65,"v":-5.84},{"t":1999.79,"v":-1.35},{"t":1999.93,"v":0.25},{"t":2000.14,"v":1.53},{"t":2000.35,"v":0.25},{"t":2000.63,"v":-1.03},{"t":2000.91,"v":-1.03},{"t":2001.2,"v":-0.39},{"t":2001.48,"v":-0.07},{"t":2001.69,"v":3.78},{"t":2001.9,"v":2.49},{"t":2002.18,"v":1.85},{"t":2002.4,"v":4.42},{"t":2002.61,"v":5.7},{"t":2002.82,"v":4.42},{"t":2002.96,"v":3.46},{"t":2003.1,"v":5.38},{"t":2003.31,"v":3.13},{"t":2003.52,"v":0.25},{"t":2003.8,"v":-0.39},{"t":2004.09,"v":-0.39},{"t":2004.37,"v":-0.71},{"t":2004.65,"v":0.89},{"t":2004.93,"v":1.53},{"t":2005.21,"v":0.57},{"t":2005.5,"v":0.25},{"t":2005.78,"v":1.85},{"t":2006.06,"v":3.78},{"t":2006.34,"v":4.42},{"t":2006.55,"v":4.74},{"t":2006.76,"v":1.21},{"t":2006.98,"v":-1.35},{"t":2007.19,"v":-0.71},{"t":2007.47,"v":-1.03},{"t":2007.75,"v":1.85},{"t":2007.96,"v":4.42},{"t":2008.17,"v":7.94},{"t":2008.38,"v":6.34},{"t":2008.6,"v":3.46},{"t":2008.81,"v":2.81},{"t":2009.02,"v":6.66},{"t":2009.16,"v":11.15},{"t":2009.3,"v":8.26},{"t":2009.51,"v":1.85},{"t":2009.72,"v":-0.71},{"t":2010.01,"v":-0.07},{"t":2010.29,"v":1.21},{"t":2010.57,"v":2.49},{"t":2010.85,"v":2.49},{"t":2011.13,"v":1.21},{"t":2011.35,"v":-0.71},{"t":2011.56,"v":0.89},{"t":2011.7,"v":7.3},{"t":2011.91,"v":3.46},{"t":2012.12,"v":-0.39},{"t":2012.4,"v":-1.99},{"t":2012.68,"v":-1.03},{"t":2012.97,"v":0.25},{"t":2013.12,"v":-1.113}],
"hist":[{"t":1980.48,"v":0},{"t":1980.62,"v":0.25},{"t":1980.69,"v":1.21},{"t":1980.76,"v":0.89},{"t":1980.83,"v":-1.03},{"t":1980.9,"v":-1.67},{"t":1980.97,"v":-1.67},{"t":1981.04,"v":-2.12},{"t":1981.11,"v":-1.35},{"t":1981.18,"v":-0.71},{"t":1981.25,"v":-0.2},{"t":1981.39,"v":0.06},{"t":1981.54,"v":0.44},{"t":1981.61,"v":2.17},{"t":1981.68,"v":3.46},{"t":1981.75,"v":2.49},{"t":1981.82,"v":0.89},{"t":1981.89,"v":-0.58},{"t":1981.96,"v":-0.84},{"t":1982.03,"v":-0.39},{"t":1982.1,"v":-0.71},{"t":1982.17,"v":-0.58},{"t":1982.24,"v":-0.2},{"t":1982.31,"v":0.06},{"t":1982.38,"v":0.25},{"t":1982.52,"v":0.89},{"t":1982.59,"v":1.85},{"t":1982.66,"v":2.17},{"t":1982.73,"v":1.21},{"t":1982.8,"v":0.25},{"t":1982.87,"v":-0.71},{"t":1982.97,"v":-0.07},{"t":1983.09,"v":-0.71},{"t":1983.23,"v":-0.71},{"t":1983.37,"v":-0.39},{"t":1983.51,"v":-0.07},{"t":1983.58,"v":0.57},{"t":1983.72,"v":0.19},{"t":1983.79,"v":-0.2},{"t":1983.86,"v":-0.39},{"t":1983.93,"v":0.06},{"t":1984,"v":0.89},{"t":1984.07,"v":2.17},{"t":1984.14,"v":2.49},{"t":1984.21,"v":1.34},{"t":1984.28,"v":0.57},{"t":1984.35,"v":0.06},{"t":1984.42,"v":-0.2},{"t":1984.5,"v":-0.46},{"t":1984.64,"v":-0.26},{"t":1984.78,"v":0.25},{"t":1984.92,"v":-0.58},{"t":1985.06,"v":-0.71},{"t":1985.13,"v":-0.2},{"t":1985.2,"v":0.89},{"t":1985.27,"v":1.53},{"t":1985.34,"v":1.08},{"t":1985.48,"v":0.57},{"t":1985.62,"v":0.7},{"t":1985.76,"v":0.06},{"t":1985.9,"v":-0.39},{"t":1986.05,"v":-0.2},{"t":1986.19,"v":-0.46},{"t":1986.33,"v":-0.07},{"t":1986.4,"v":0.25},{"t":1986.47,"v":1.53},{"t":1986.54,"v":2.17},{"t":1986.61,"v":4.42},{"t":1986.68,"v":1.85},{"t":1986.75,"v":-0.58},{"t":1986.89,"v":-1.03},{"t":1987.03,"v":-0.58},{"t":1987.1,"v":-0.2},{"t":1987.17,"v":-0.39},{"t":1987.24,"v":0.89},{"t":1987.31,"v":1.85},{"t":1987.38,"v":0.25},{"t":1987.46,"v":-0.39},{"t":1987.6,"v":-0.71},{"t":1987.67,"v":-0.07},{"t":1987.74,"v":1.53},{"t":1987.81,"v":3.46},{"t":1987.88,"v":5.7},{"t":1987.95,"v":2.17},{"t":1988.02,"v":-0.71},{"t":1988.09,"v":-2.63},{"t":1988.16,"v":-1.99},{"t":1988.3,"v":-1.03},{"t":1988.44,"v":-0.58},{"t":1988.58,"v":-0.2},{"t":1988.72,"v":0.25},{"t":1988.86,"v":0.89},{"t":1989.01,"v":-0.07},{"t":1989.15,"v":-0.2},{"t":1989.29,"v":-0.33},{"t":1989.43,"v":0.06},{"t":1989.57,"v":0.25},{"t":1989.71,"v":0.44},{"t":1989.78,"v":1.21},{"t":1989.85,"v":1.85},{"t":1989.92,"v":2.17},{"t":1989.99,"v":1.21},{"t":1990.06,"v":0.25},{"t":1990.13,"v":-0.71},{"t":1990.27,"v":-1.03},{"t":1990.41,"v":-0.2},{"t":1990.56,"v":0.89},{"t":1990.63,"v":2.49},{"t":1990.7,"v":3.46},{"t":1990.77,"v":2.81},{"t":1990.84,"v":0.57},{"t":1990.98,"v":-0.58},{"t":1991.12,"v":-0.71},{"t":1991.26,"v":-0.2},{"t":1991.4,"v":0.57},{"t":1991.54,"v":0.44},{"t":1991.68,"v":0.25},{"t":1991.82,"v":0.06},{"t":1991.97,"v":-0.58},{"t":1992.11,"v":-0.2},{"t":1992.25,"v":0.06},{"t":1992.39,"v":0.7},{"t":1992.53,"v":1.21},{"t":1992.67,"v":0.89},{"t":1992.81,"v":0.06},{"t":1992.95,"v":-0.2},{"t":1993.09,"v":0.19},{"t":1993.23,"v":0.44},{"t":1993.37,"v":0.7},{"t":1993.52,"v":0.25},{"t":1993.66,"v":-0.46},{"t":1993.8,"v":-0.2},{"t":1993.94,"v":0.06},{"t":1994.08,"v":0.31},{"t":1994.22,"v":0.44},{"t":1994.36,"v":0.96},{"t":1994.5,"v":0.7},{"t":1994.64,"v":0.19},{"t":1994.78,"v":-0.07},{"t":1994.93,"v":0.06},{"t":1995.07,"v":0.19},{"t":1995.21,"v":0.06},{"t":1995.35,"v":-0.07},{"t":1995.49,"v":0.25},{"t":1995.63,"v":-0.07},{"t":1995.77,"v":0.19},{"t":1995.91,"v":0.31},{"t":1996.05,"v":0.44},{"t":1996.19,"v":0.06},{"t":1996.33,"v":0.25},{"t":1996.48,"v":0.57},{"t":1996.62,"v":-0.2},{"t":1996.76,"v":-0.58},{"t":1996.9,"v":-0.84},{"t":1997.04,"v":0.57},{"t":1997.18,"v":1.21},{"t":1997.25,"v":1.34},{"t":1997.32,"v":0.57},{"t":1997.46,"v":-0.2},{"t":1997.6,"v":-0.46},{"t":1997.74,"v":0.44},{"t":1997.88,"v":0.7},{"t":1998.03,"v":0.83},{"t":1998.17,"v":-0.07},{"t":1998.31,"v":0.06},{"t":1998.45,"v":0.44},{"t":1998.52,"v":0.89},{"t":1998.59,"v":1.53},{"t":1998.66,"v":2.17},{"t":1998.73,"v":0.89},{"t":1998.87,"v":-0.07},{"t":1999.01,"v":-0.58},{"t":1999.15,"v":-0.71},{"t":1999.29,"v":-0.84},{"t":1999.44,"v":-0.84},{"t":1999.51,"v":-0.58},{"t":1999.58,"v":0.57},{"t":1999.65,"v":2.81},{"t":1999.72,"v":4.74},{"t":1999.79,"v":1.85},{"t":1999.86,"v":-0.07},{"t":2000,"v":-0.2},{"t":2000.14,"v":0.44},{"t":2000.28,"v":0.19},{"t":2000.42,"v":-0.2},{"t":2000.56,"v":-0.46},{"t":2000.7,"v":0.06},{"t":2000.84,"v":0.25},{"t":2000.99,"v":-0.07},{"t":2001.13,"v":0.19},{"t":2001.27,"v":-0.2},{"t":2001.41,"v":0.25},{"t":2001.55,"v":0.89},{"t":2001.62,"v":2.17},{"t":2001.69,"v":1.53},{"t":2001.76,"v":0.25},{"t":2001.83,"v":-1.35},{"t":2001.9,"v":-1.67},{"t":2001.97,"v":-1.03},{"t":2002.11,"v":0.06},{"t":2002.25,"v":0.89},{"t":2002.32,"v":1.53},{"t":2002.4,"v":2.17},{"t":2002.47,"v":1.85},{"t":2002.54,"v":0.89},{"t":2002.68,"v":1.21},{"t":2002.82,"v":0.44},{"t":2002.96,"v":-0.2},{"t":2003.03,"v":-1.03},{"t":2003.1,"v":-1.22},{"t":2003.17,"v":-0.71},{"t":2003.24,"v":-0.58},{"t":2003.38,"v":-0.46},{"t":2003.52,"v":-0.2},{"t":2003.66,"v":0.19},{"t":2003.8,"v":0.44},{"t":2003.94,"v":0.06},{"t":2004.09,"v":-0.2},{"t":2004.23,"v":0.19},{"t":2004.37,"v":0.31},{"t":2004.51,"v":-0.2},{"t":2004.65,"v":-0.07},{"t":2004.79,"v":0.7},{"t":2004.93,"v":0.44},{"t":2005.07,"v":-0.46},{"t":2005.21,"v":-0.07},{"t":2005.35,"v":0.19},{"t":2005.5,"v":-0.2},{"t":2005.64,"v":0.25},{"t":2005.78,"v":0.89},{"t":2005.92,"v":1.21},{"t":2006.06,"v":0.57},{"t":2006.2,"v":0.25},{"t":2006.34,"v":0.89},{"t":2006.48,"v":0.44},{"t":2006.62,"v":-0.46},{"t":2006.69,"v":-1.35},{"t":2006.76,"v":-2.12},{"t":2006.9,"v":-1.22},{"t":2007.05,"v":-0.71},{"t":2007.19,"v":-0.39},{"t":2007.33,"v":0.19},{"t":2007.47,"v":0.06},{"t":2007.61,"v":0.44},{"t":2007.75,"v":1.21},{"t":2007.89,"v":1.85},{"t":2007.96,"v":2.49},{"t":2008.03,"v":2.17},{"t":2008.1,"v":1.21},{"t":2008.17,"v":-0.71},{"t":2008.24,"v":-1.67},{"t":2008.31,"v":-2.12},{"t":2008.46,"v":-1.35},{"t":2008.6,"v":-0.39},{"t":2008.67,"v":-0.71},{"t":2008.74,"v":-0.07},{"t":2008.81,"v":0.89},{"t":2008.88,"v":1.85},{"t":2008.95,"v":2.49},{"t":2009.02,"v":3.46},{"t":2009.09,"v":2.49},{"t":2009.16,"v":0.25},{"t":2009.23,"v":-1.99},{"t":2009.3,"v":-2.63},{"t":2009.44,"v":-2.12},{"t":2009.58,"v":-1.35},{"t":2009.72,"v":-0.71},{"t":2009.87,"v":-0.2},{"t":2010.01,"v":0.06},{"t":2010.15,"v":0.19},{"t":2010.29,"v":0.44},{"t":2010.43,"v":0.06},{"t":2010.57,"v":-0.07},{"t":2010.71,"v":0.06},{"t":2010.85,"v":0.19},{"t":2010.99,"v":0.31},{"t":2011.13,"v":0.19},{"t":2011.27,"v":-0.2},{"t":2011.42,"v":0.57},{"t":2011.49,"v":1.85},{"t":2011.56,"v":3.13},{"t":2011.63,"v":3.46},{"t":2011.7,"v":2.49},{"t":2011.77,"v":0.25},{"t":2011.84,"v":-1.03},{"t":2011.91,"v":-1.67},{"t":2011.98,"v":-1.99},{"t":2012.12,"v":-1.48},{"t":2012.26,"v":-0.71},{"t":2012.4,"v":-0.39},{"t":2012.54,"v":0.25},{"t":2012.68,"v":0.7},{"t":2012.82,"v":0.44},{"t":2012.97,"v":0.06},{"t":2013.04,"v":-0.71},{"t":2013.12,"v":-1.19}],
"pink":[{"s":"a","t":1982.24,"v":0.783},{"s":"a","t":1999.79,"v":0.0576},{"s":"b","t":1999.013,"v":0.0765},{"s":"b","t":1999.79,"v":0.0576},{"s":"c","t":1998.438,"v":0.0593},{"s":"c","t":1999.79,"v":0.0576}],
"blue":[{"s":"a","t":2002.112,"v":0.02245},{"s":"a","t":2013.106,"v":0.1},{"s":"b","t":2011.838,"v":0.0983},{"s":"b","t":2013.106,"v":0.1},{"s":"c","t":2012.345,"v":0.0771},{"s":"c","t":2013.106,"v":0.1}]
},
"vconcat":[
{"width":788,"height":117,
"layer":[
{"data":{"name":"rsi"},"transform":[{"filter":"datum.r < 30"}],"mark":{"type":"bar","color":"#8c4a4a","width":2.6},"encoding":{"x":{"field":"t","type":"quantitative"},"y":{"field":"r","type":"quantitative"},"y2":{"datum":30}}},
{"data":{"values":[{}]},"mark":{"type":"rule","color":"#555555","strokeWidth":1.4},"encoding":{"y":{"datum":70}}},
{"data":{"values":[{}]},"mark":{"type":"rule","color":"#555555","strokeWidth":1.4},"encoding":{"y":{"datum":30}}},
{"data":{"values":[{}]},"mark":{"type":"rule","color":"#666666","strokeWidth":1,"strokeDash":[7,3,2,3]},"encoding":{"y":{"datum":50}}},
{"data":{"name":"rsi"},"mark":{"type":"line","color":"#000000","strokeWidth":1},"encoding":{"x":{"field":"t","type":"quantitative","scale":{"domain":[1979.956,2013.277],"nice":false,"zero":false},"axis":{"values":[1981,1982,1983,1984,1985,1986,1987,1988,1989,1990,1991,1992,1993,1994,1995,1996,1997,1998,1999,2000,2001,2002,2003,2004,2005,2006,2007,2008,2009,2010,2011,2012,2013],"labels":false,"ticks":false,"grid":true,"title":null}},"y":{"field":"r","type":"quantitative","scale":{"domain":[-1.55,104.82],"nice":false,"zero":false},"axis":{"orient":"right","values":[0,10,20,30,40,50,60,70,80,90,100],"labelExpr":"datum.value % 20 == 10 ? datum.label : ''","labelOverlap":false,"tickSize":3,"labelPadding":2,"grid":true,"title":null}}}},
{"data":{"values":[{}]},"mark":{"type":"point","filled":true,"size":470,"color":"#2e9c5c","opacity":0.55},"encoding":{"x":{"datum":1999.394},"y":{"datum":26.4}}},
{"data":{"values":[{}]},"mark":{"type":"point","filled":true,"size":470,"color":"#2e9c5c","opacity":0.55},"encoding":{"x":{"datum":2013.178},"y":{"datum":30.5}}},
{"data":{"values":[{}]},"mark":{"type":"point","shape":"triangle-left","size":70,"filled":true,"fill":"white","stroke":"#000","strokeWidth":1,"opacity":1},"encoding":{"x":{"datum":2013.2},"y":{"datum":29.6}}},
{"data":{"values":[{}]},"mark":{"type":"rect","fill":"white","stroke":"#000","strokeWidth":1},"encoding":{"x":{"datum":2013.276},"x2":{"datum":2014.545},"y":{"datum":34.36},"y2":{"datum":24.82}}},
{"data":{"values":[{}]},"mark":{"type":"text","text":"30.20","fontSize":11,"color":"#000","align":"center","baseline":"middle"},"encoding":{"x":{"datum":2013.91},"y":{"datum":29.6}}},
{"data":{"values":[{}]},"mark":{"type":"text","text":"$GOLD:$INDU","fontWeight":"bold","fontSize":15,"color":"#000","align":"left","baseline":"middle"},"encoding":{"x":{"datum":1979.66},"y":{"datum":123.9}}},
{"data":{"values":[{}]},"mark":{"type":"text","text":"Gold - Spot Price (EOD)/Dow Jones Industrial Average","fontSize":11,"color":"#000","align":"left","baseline":"middle"},"encoding":{"x":{"datum":1984.15},"y":{"datum":123.0}}},
{"data":{"values":[{}]},"mark":{"type":"text","text":"CME/INDX","fontSize":10,"color":"#000","align":"left","baseline":"middle"},"encoding":{"x":{"datum":1995.7},"y":{"datum":123.0}}},
{"data":{"values":[{}]},"mark":{"type":"text","text":"© StockCharts.com","fontSize":11,"color":"#333","align":"right","baseline":"middle"},"encoding":{"x":{"datum":2014.417},"y":{"datum":123.0}}},
{"data":{"values":[{}]},"mark":{"type":"text","text":"15-Feb-2013","fontSize":12,"color":"#000","align":"left","baseline":"middle"},"encoding":{"x":{"datum":1979.66},"y":{"datum":113.0}}},
{"data":{"values":[{}]},"mark":{"type":"text","text":"Open","fontWeight":"bold","fontSize":11,"color":"#000","align":"left","baseline":"middle"},"encoding":{"x":{"datum":1997.969},"y":{"datum":113.0}}},
{"data":{"values":[{}]},"mark":{"type":"text","text":"0.119","fontSize":11,"color":"#000","align":"left","baseline":"middle"},"encoding":{"x":{"datum":1999.288},"y":{"datum":113.0}}},
{"data":{"values":[{}]},"mark":{"type":"text","text":"High","fontWeight":"bold","fontSize":11,"color":"#000","align":"left","baseline":"middle"},"encoding":{"x":{"datum":2000.578},"y":{"datum":113.0}}},
{"data":{"values":[{}]},"mark":{"type":"text","text":"0.119","fontSize":11,"color":"#000","align":"left","baseline":"middle"},"encoding":{"x":{"datum":2001.741},"y":{"datum":113.0}}},
{"data":{"values":[{}]},"mark":{"type":"text","text":"Low","fontWeight":"bold","fontSize":11,"color":"#000","align":"left","baseline":"middle"},"encoding":{"x":{"datum":2003.03},"y":{"datum":113.0}}},
{"data":{"values":[{}]},"mark":{"type":"text","text":"0.114","fontSize":11,"color":"#000","align":"left","baseline":"middle"},"encoding":{"x":{"datum":2004.092},"y":{"datum":113.0}}},
{"data":{"values":[{}]},"mark":{"type":"text","text":"Close","fontWeight":"bold","fontSize":11,"color":"#000","align":"left","baseline":"middle"},"encoding":{"x":{"datum":2005.381},"y":{"datum":113.0}}},
{"data":{"values":[{}]},"mark":{"type":"text","text":"0.115","fontSize":11,"color":"#000","align":"left","baseline":"middle"},"encoding":{"x":{"datum":2006.781},"y":{"datum":113.0}}},
{"data":{"values":[{}]},"mark":{"type":"text","text":"Volume","fontWeight":"bold","fontSize":11,"color":"#000","align":"left","baseline":"middle"},"encoding":{"x":{"datum":2008.07},"y":{"datum":113.0}}},
{"data":{"values":[{}]},"mark":{"type":"text","text":"0","fontSize":11,"color":"#000","align":"left","baseline":"middle"},"encoding":{"x":{"datum":2009.88},"y":{"datum":113.0}}},
{"data":{"values":[{}]},"mark":{"type":"text","text":"Chg","fontWeight":"bold","fontSize":11,"color":"#000","align":"left","baseline":"middle"},"encoding":{"x":{"datum":2010.265},"y":{"datum":113.0}}},
{"data":{"values":[{}]},"mark":{"type":"text","text":"-0.004 (-3.35%)","fontSize":11,"color":"#000","align":"left","baseline":"middle"},"encoding":{"x":{"datum":2011.301},"y":{"datum":113.0}}},
{"data":{"values":[{}]},"mark":{"type":"text","text":"▼","fontSize":8,"color":"#cc0000","align":"center","baseline":"middle"},"encoding":{"x":{"datum":2014.797},"y":{"datum":113.0}}}
]},
{"width":788,"height":360,
"layer":[
{"data":{"name":"pink"},"mark":{"type":"line","color":"#f07070","strokeWidth":7,"opacity":0.6,"strokeCap":"butt"},"encoding":{"x":{"field":"t","type":"quantitative"},"y":{"field":"v","type":"quantitative","scale":{"type":"log"}},"detail":{"field":"s"}}},
{"data":{"name":"blue"},"mark":{"type":"line","color":"#6b6bff","strokeWidth":6.5,"opacity":0.6,"strokeCap":"butt"},"encoding":{"x":{"field":"t","type":"quantitative"},"y":{"field":"v","type":"quantitative","scale":{"type":"log"}},"detail":{"field":"s"}}},
{"data":{"name":"px"},"mark":{"type":"line","color":"#000000","strokeWidth":1.2},"encoding":{"x":{"field":"t","type":"quantitative","scale":{"domain":[1979.956,2013.277],"nice":false,"zero":false},"axis":{"values":[1981,1982,1983,1984,1985,1986,1987,1988,1989,1990,1991,1992,1993,1994,1995,1996,1997,1998,1999,2000,2001,2002,2003,2004,2005,2006,2007,2008,2009,2010,2011,2012,2013],"labels":false,"ticks":false,"grid":true,"title":null}},"y":{"field":"p","type":"quantitative","scale":{"type":"log","domain":[0.02102,1.0375],"nice":false,"zero":false},"axis":{"orient":"right","values":[0.025,0.05,0.1,0.15,0.2,0.25,0.3,0.35,0.4,0.45,0.5,0.55,0.6,0.65,0.75,0.85,0.95],"format":".3f","labelOverlap":false,"tickSize":3,"labelPadding":2,"grid":true,"title":null}}}},
{"data":{"name":"ma"},"mark":{"type":"line","color":"#ff0000","strokeWidth":1.1},"encoding":{"x":{"field":"t","type":"quantitative"},"y":{"field":"p","type":"quantitative","scale":{"type":"log"}}}},
{"data":{"name":"yrs"},"mark":{"type":"text","fontSize":11,"color":"#222","align":"center","baseline":"middle"},"encoding":{"x":{"field":"yr","type":"quantitative"},"y":{"datum":0.0192},"text":{"field":"lab"}}},
{"data":{"values":[{}]},"mark":{"type":"text","text":"$GOLD:$INDU (Weekly)","font":"DejaVu Sans Mono","fontSize":11,"color":"#222","align":"left","baseline":"middle"},"encoding":{"x":{"datum":1980.04},"y":{"datum":0.931}}},
{"data":{"values":[{}]},"mark":{"type":"text","text":"Paper Asset Trade","fontSize":12,"fontStyle":"italic","fontWeight":"bold","color":"#ff1a1a","align":"center","baseline":"middle"},"encoding":{"x":{"datum":1991.542},"y":{"datum":0.4656}}},
{"data":{"values":[{}]},"mark":{"type":"text","text":"(Gold underperforms Stocks)","fontSize":12,"fontStyle":"italic","fontWeight":"bold","color":"#ff1a1a","align":"center","baseline":"middle"},"encoding":{"x":{"datum":1991.669},"y":{"datum":0.387}}},
{"data":{"values":[{}]},"mark":{"type":"text","text":"On relative basis against stocks","fontSize":14,"fontStyle":"italic","fontWeight":"bold","color":"#138a3a","align":"left","baseline":"middle"},"encoding":{"x":{"datum":2000.603},"y":{"datum":0.3187}}},
{"data":{"values":[{}]},"mark":{"type":"text","text":"Gold is now most oversold since","fontSize":14,"fontStyle":"italic","fontWeight":"bold","color":"#138a3a","align":"left","baseline":"middle"},"encoding":{"x":{"datum":2000.603},"y":{"datum":0.2566}}},
{"data":{"values":[{}]},"mark":{"type":"text","text":"the bull market began in 1999!","fontSize":14,"fontStyle":"italic","fontWeight":"bold","color":"#138a3a","align":"left","baseline":"middle"},"encoding":{"x":{"datum":2000.603},"y":{"datum":0.2066}}},
{"data":{"values":[{}]},"mark":{"type":"text","text":"Hard Asset Trade","fontSize":12,"fontStyle":"italic","fontWeight":"bold","color":"#1a1aff","align":"center","baseline":"middle"},"encoding":{"x":{"datum":2009.871},"y":{"datum":0.0381}}},
{"data":{"values":[{}]},"mark":{"type":"text","text":"(Gold outperforms Stocks)","fontSize":12,"fontStyle":"italic","fontWeight":"bold","color":"#1a1aff","align":"center","baseline":"middle"},"encoding":{"x":{"datum":2009.922},"y":{"datum":0.03138}}},
{"data":{"values":[{}]},"mark":{"type":"text","text":"TheShortSideOfLong.blogspot.com","fontSize":14,"fontStyle":"italic","color":"#000","align":"left","baseline":"middle"},"encoding":{"x":{"datum":1980.265},"y":{"datum":0.02455}}},
{"data":{"values":[{}]},"mark":{"type":"point","shape":"triangle-left","size":60,"filled":true,"fill":"white","stroke":"#ff0000","strokeWidth":1,"opacity":1},"encoding":{"x":{"datum":2013.16},"y":{"datum":0.1283}}},
{"data":{"values":[{}]},"mark":{"type":"rect","fill":"white","stroke":"#ff0000","strokeWidth":1},"encoding":{"x":{"datum":2013.234},"x2":{"datum":2014.545},"y":{"datum":0.1361},"y2":{"datum":0.1202}}},
{"data":{"values":[{}]},"mark":{"type":"text","text":"0.127","fontSize":11,"color":"#000","align":"center","baseline":"middle"},"encoding":{"x":{"datum":2013.89},"y":{"datum":0.1283}}},
{"data":{"values":[{}]},"mark":{"type":"point","shape":"triangle-left","size":60,"filled":true,"fill":"white","stroke":"#000","strokeWidth":1,"opacity":1},"encoding":{"x":{"datum":2013.12},"y":{"datum":0.1151}}},
{"data":{"values":[{}]},"mark":{"type":"rect","fill":"white","stroke":"#000","strokeWidth":1},"encoding":{"x":{"datum":2013.192},"x2":{"datum":2014.63},"y":{"datum":0.1229},"y2":{"datum":0.1079}}},
{"data":{"values":[{}]},"mark":{"type":"text","text":"0.115","fontSize":11,"fontWeight":"bold","color":"#000","align":"center","baseline":"middle"},"encoding":{"x":{"datum":2013.91},"y":{"datum":0.1151}}}
]},
{"width":788,"height":9,"view":{"stroke":null},"data":{"values":[{}]},"mark":{"type":"text"},"encoding":{"text":{"value":""}}},
{"width":788,"height":125,
"layer":[
{"data":{"name":"hist"},"mark":{"type":"area","color":"#24508f","interpolate":"step"},"encoding":{"x":{"field":"t","type":"quantitative","scale":{"domain":[1979.956,2013.277],"nice":false,"zero":false},"axis":{"values":[1981,1982,1983,1984,1985,1986,1987,1988,1989,1990,1991,1992,1993,1994,1995,1996,1997,1998,1999,2000,2001,2002,2003,2004,2005,2006,2007,2008,2009,2010,2011,2012,2013],"labels":false,"ticks":false,"grid":true,"title":null}},"y":{"field":"v","type":"quantitative","scale":{"domain":[-9.56,14.48],"nice":false,"zero":false},"axis":{"orient":"right","values":[-5,0,5,10],"labelOverlap":false,"tickSize":3,"labelPadding":2,"grid":true,"title":null}},"y2":{"datum":0}}},
{"data":{"name":"macd"},"mark":{"type":"line","color":"#808080","strokeWidth":4,"opacity":0.5},"encoding":{"x":{"field":"t","type":"quantitative"},"y":{"field":"v","type":"quantitative"}}},
{"data":{"name":"macd"},"mark":{"type":"line","color":"#000000","strokeWidth":2},"encoding":{"x":{"field":"t","type":"quantitative"},"y":{"field":"v","type":"quantitative"}}},
{"data":{"name":"sig"},"mark":{"type":"line","color":"#ff0000","strokeWidth":1.2},"encoding":{"x":{"field":"t","type":"quantitative"},"y":{"field":"v","type":"quantitative"}}},
{"data":{"name":"yrs"},"mark":{"type":"text","fontSize":11,"color":"#222","align":"center","baseline":"middle"},"encoding":{"x":{"field":"yr","type":"quantitative"},"y":{"datum":-11.29},"text":{"field":"lab"}}},
{"data":{"values":[{}]},"mark":{"type":"point","shape":"triangle-left","size":60,"filled":true,"fill":"white","stroke":"#ff0000","strokeWidth":1,"opacity":1},"encoding":{"x":{"datum":2013.2},"y":{"datum":-0.71}}},
{"data":{"values":[{}]},"mark":{"type":"rect","fill":"white","stroke":"#ff0000","strokeWidth":1},"encoding":{"x":{"datum":2013.276},"x2":{"datum":2014.714},"y":{"datum":0.35},"y2":{"datum":-1.67}}},
{"data":{"values":[{}]},"mark":{"type":"text","text":"-1.113","fontSize":11,"color":"#000","align":"center","baseline":"middle"},"encoding":{"x":{"datum":2013.995},"y":{"datum":-0.71}}},
{"data":{"values":[{}]},"mark":{"type":"point","shape":"triangle-left","size":60,"filled":true,"fill":"white","stroke":"#000","strokeWidth":1,"opacity":1},"encoding":{"x":{"datum":2013.16},"y":{"datum":-2.31}}},
{"data":{"values":[{}]},"mark":{"type":"rect","fill":"white","stroke":"#000","strokeWidth":1},"encoding":{"x":{"datum":2013.234},"x2":{"datum":2014.714},"y":{"datum":-1.19},"y2":{"datum":-3.4}}},
{"data":{"values":[{}]},"mark":{"type":"text","text":"-2.306","fontSize":11,"color":"#000","align":"center","baseline":"middle"},"encoding":{"x":{"datum":2013.97},"y":{"datum":-2.31}}}
]}
]
}
